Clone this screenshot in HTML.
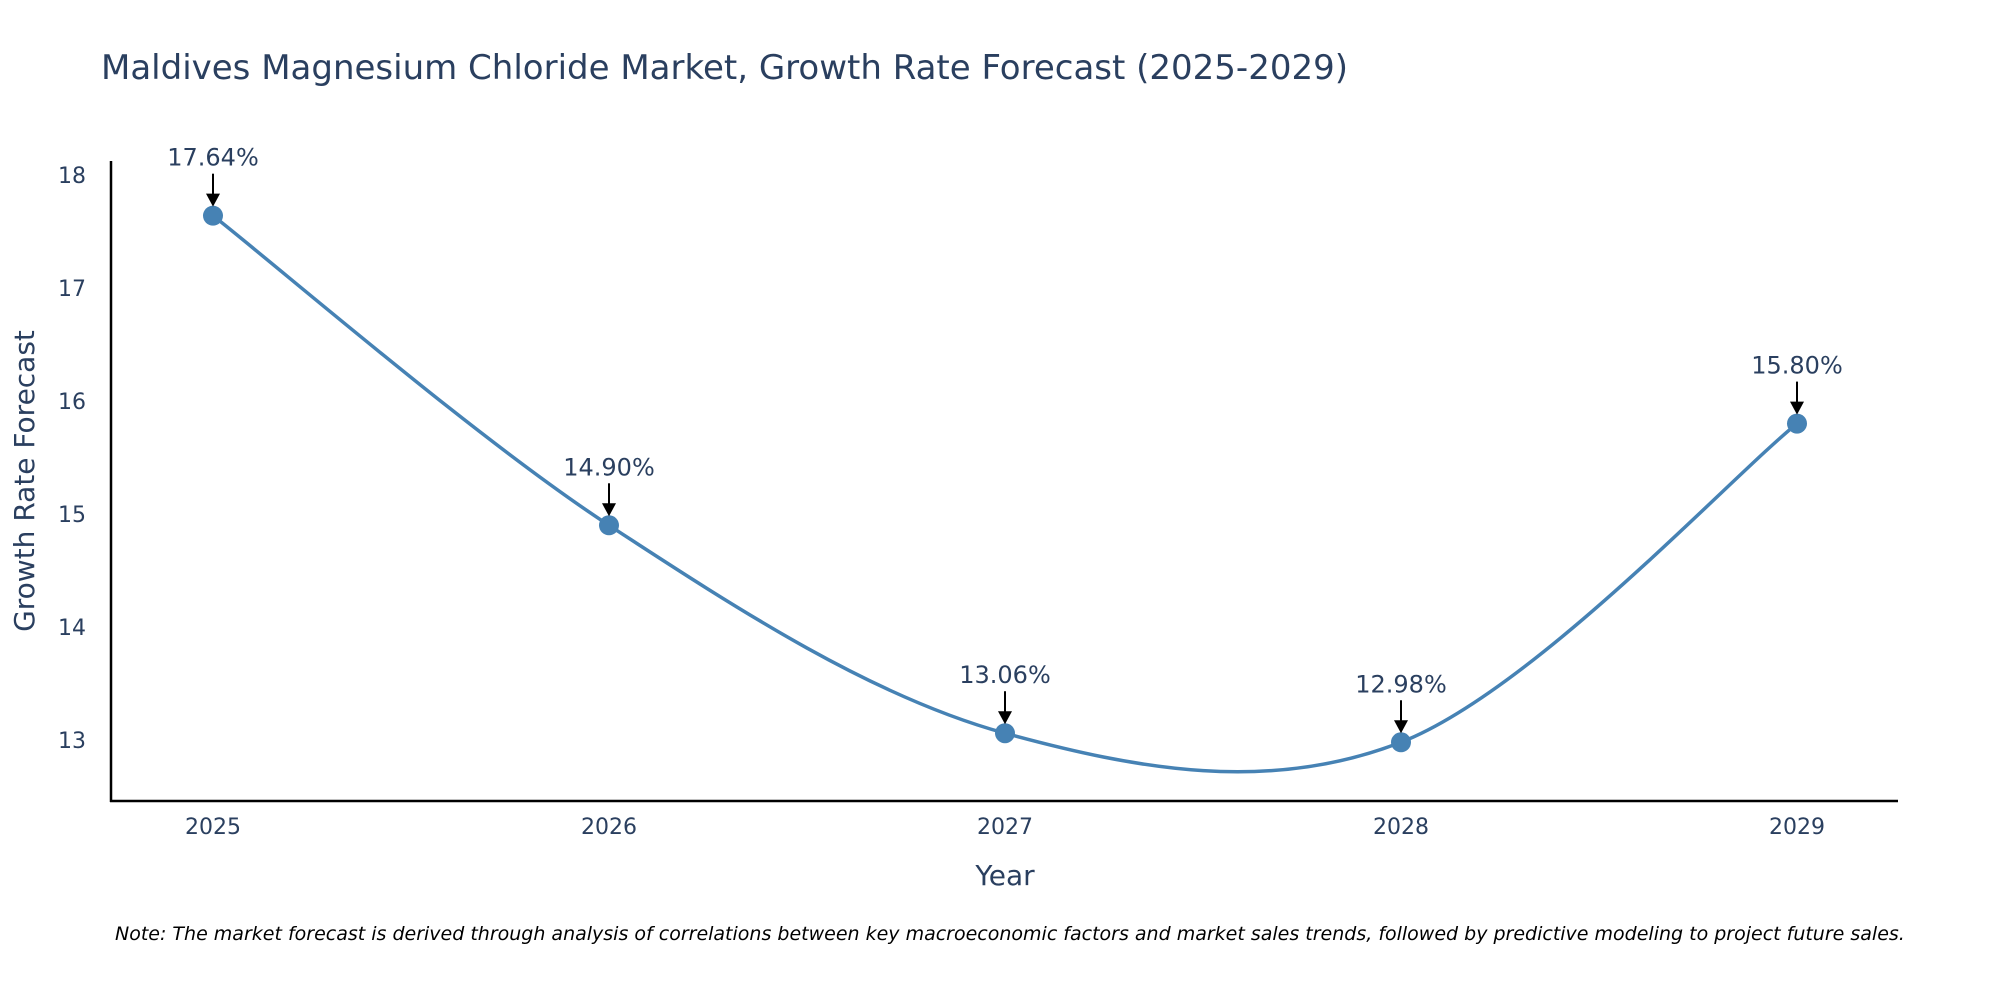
<!DOCTYPE html>
<html><head><meta charset="utf-8"><style>
html,body{margin:0;padding:0;background:#fff;}
svg text{font-family:"DejaVu Sans","Liberation Sans",sans-serif;}
</style></head><body>
<svg id="chart" width="2000" height="1000" xmlns="http://www.w3.org/2000/svg">
<rect width="2000" height="1000" fill="#fff"/>
<text x="101" y="79" font-size="34" fill="#2a3f5f">Maldives Magnesium Chloride Market, Growth Rate Forecast (2025-2029)</text>
<g id="plot"></g>
<line x1="111" y1="161" x2="111" y2="802" stroke="#000" stroke-width="2.5"/>
<line x1="110" y1="801" x2="1898" y2="801" stroke="#000" stroke-width="2.5"/>
<text transform="translate(34,481) rotate(-90)" text-anchor="middle" font-size="28" fill="#2a3f5f">Growth Rate Forecast</text>
<text x="1005" y="885" text-anchor="middle" font-size="28" fill="#2a3f5f">Year</text>
<text x="115" y="940" font-size="19" font-style="italic" fill="#000">Note: The market forecast is derived through analysis of correlations between key macroeconomic factors and market sales trends, followed by predictive modeling to project future sales.</text>
</svg>
<script>
const years = ["2025","2026","2027","2028","2029"];
const values = [17.64, 14.90, 13.06, 12.98, 15.80];
const labels = ["17.64%","14.90%","13.06%","12.98%","15.80%"];
const yTicks = [13,14,15,16,17,18];

const NS = "http://www.w3.org/2000/svg";
const g = document.getElementById("plot");
const xS = i => 213 + i * (1797 - 213) / (years.length - 1);
const yS = v => 740 - (v - 13) * (740 - 175) / 5;
function mk(tag, attrs){const e=document.createElementNS(NS,tag);for(const k in attrs)e.setAttribute(k,attrs[k]);g.appendChild(e);return e;}

yTicks.forEach(t=>{
  const e=mk("text",{x:86,y:yS(t)+8,"text-anchor":"end","font-size":22,fill:"#2a3f5f"});
  
  
  e.textContent=t;
});
years.forEach((yr,i)=>{
  const e=mk("text",{x:xS(i),y:834,"text-anchor":"middle","font-size":22,fill:"#2a3f5f"});
  
  
  e.textContent=yr;
});

const pts = values.map((v,i)=>[xS(i),yS(v)]);
let d = "M"+pts[0][0]+","+pts[0][1];
for(let i=0;i<pts.length-1;i++){
  const p0=pts[Math.max(0,i-1)],p1=pts[i],p2=pts[i+1],p3=pts[Math.min(pts.length-1,i+2)];
  const c1=[p1[0]+(p2[0]-p0[0])/6,p1[1]+(p2[1]-p0[1])/6];
  const c2=[p2[0]-(p3[0]-p1[0])/6,p2[1]-(p3[1]-p1[1])/6];
  d+=` C${c1[0]},${c1[1]} ${c2[0]},${c2[1]} ${p2[0]},${p2[1]}`;
}
const line=mk("path",{d:d,fill:"none",stroke:"#4682b4","stroke-width":3.5});



pts.forEach((p,i)=>{
  const c=mk("circle",{cx:p[0],cy:p[1],r:10,fill:"#4682b4"});
  
  
  const a=mk("line",{x1:p[0],y1:p[1]-42,x2:p[0],y2:p[1]-20,stroke:"#000","stroke-width":2});
  
  
  const h=mk("polygon",{points:`${p[0]-7},${p[1]-22} ${p[0]+7},${p[1]-22} ${p[0]},${p[1]-9}`,fill:"#000"});
  
  
  const t=mk("text",{x:p[0],y:p[1]-50,"text-anchor":"middle","font-size":24,fill:"#2a3f5f"});
  
  
  t.textContent=labels[i];
});
</script>
</body></html>
